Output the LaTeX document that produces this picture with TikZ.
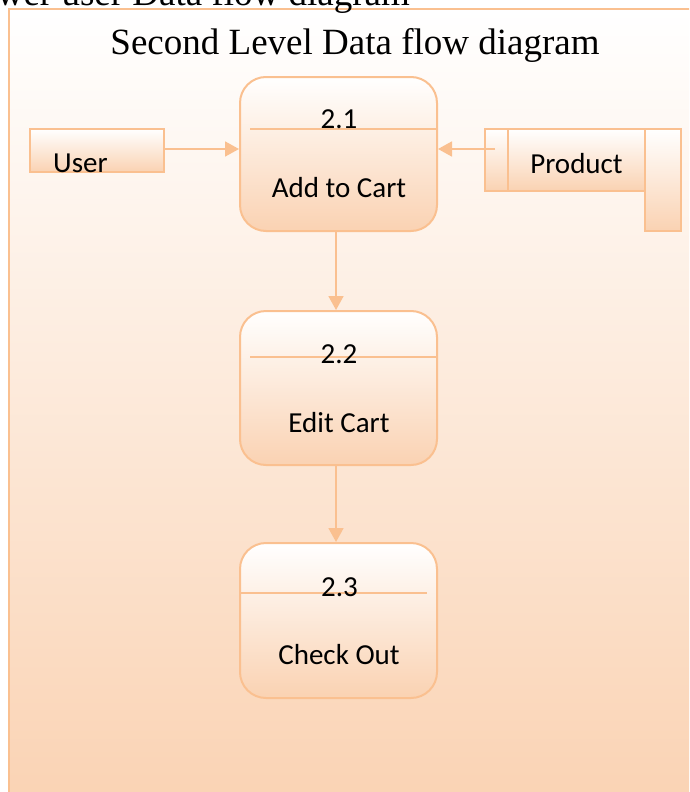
\documentclass[tikz,border=0pt]{standalone}
\usepackage{fontspec}
\setmainfont{Liberation Serif}
\newfontfamily\boxfont{Carlito}
\usetikzlibrary{arrows.meta}
\definecolor{edgeor}{RGB}{250,192,144}
\definecolor{peach}{RGB}{250,210,178}
\begin{document}
\begin{tikzpicture}[x=1pt,y=-1pt,
  process/.style={draw=edgeor, line width=2pt, rounded corners=26pt,
    top color=white, bottom color=peach,
    minimum width=197pt, minimum height=154pt, inner sep=0pt},
  extbox/.style={draw=edgeor, line width=2pt, top color=white, bottom color=peach,
    inner sep=0pt},
  divider/.style={draw=edgeor, line width=1.6pt},
  lbl/.style={font=\boxfont\fontsize{29}{35}\selectfont, inner sep=0pt},
  heading/.style={font=\fontsize{37}{44}\selectfont, inner sep=0pt},
  flow/.style={draw=edgeor, line width=1.8pt, -{Triangle[width=15pt,length=14pt]}}]
\useasboundingbox (0,0) rectangle (689,792);
\clip (0,0) rectangle (689,792);

% page frame with its soft gradient
\path[draw=edgeor, line width=2pt, top color=white, bottom color=peach]
  (9,9) rectangle (720,820);

% headings
\node[heading, anchor=base east] (oldtitle) at (410,6) {wer user Data flow diagram};
\node[heading, anchor=base] (title) at (355,55) {Second Level Data flow diagram};

% processes
\node[process] (p1) at (338.5,154) {};
\node[process] (p2) at (338.5,388) {};
\node[process, minimum height=155pt] (p3) at (338.5,620.5) {};

\draw[divider] (250,129) -- (437,129);
\draw[divider] (250,357) -- (437,357);
\draw[divider] (241,593) -- (427,593);

\node[lbl, anchor=base] (n1) at (339,128.5) {2.1};
\node[lbl, anchor=base] (t1) at (339,197) {Add to Cart};
\node[lbl, anchor=base] (n2) at (339,363) {2.2};
\node[lbl, anchor=base] (t2) at (339,432) {Edit Cart};
\node[lbl, anchor=base] (n3) at (339.5,596) {2.3};
\node[lbl, anchor=base] (t3) at (339,664) {Check Out};

% external entity
\node[extbox, minimum width=134pt, minimum height=43pt] (user) at (97,150.5) {};
\node[lbl, anchor=base west] (userlbl) at (53,172) {User};

% data store
\node[extbox, minimum width=196pt, minimum height=62pt] (store) at (583,160) {};
\draw[divider, line width=2pt] (508,129) -- (508,191);
\node[extbox, minimum width=36pt, minimum height=102pt] (storetab) at (663,180) {};
\node[lbl, anchor=base] (prodlbl) at (576.5,173) {Product};
\coordinate (prodout) at (495,149);

% data flows
\draw[flow] (user.east |- prodout) -- (prodout -| p1.west);
\draw[flow] (prodout) -- (prodout -| p1.east);
\draw[flow] ([xshift=-2.5pt]p1.south) -- ([xshift=-2.5pt]p2.north);
\draw[flow] ([xshift=-2.5pt]p2.south) -- ([xshift=-2.5pt]p3.north);
\end{tikzpicture}
\end{document}
